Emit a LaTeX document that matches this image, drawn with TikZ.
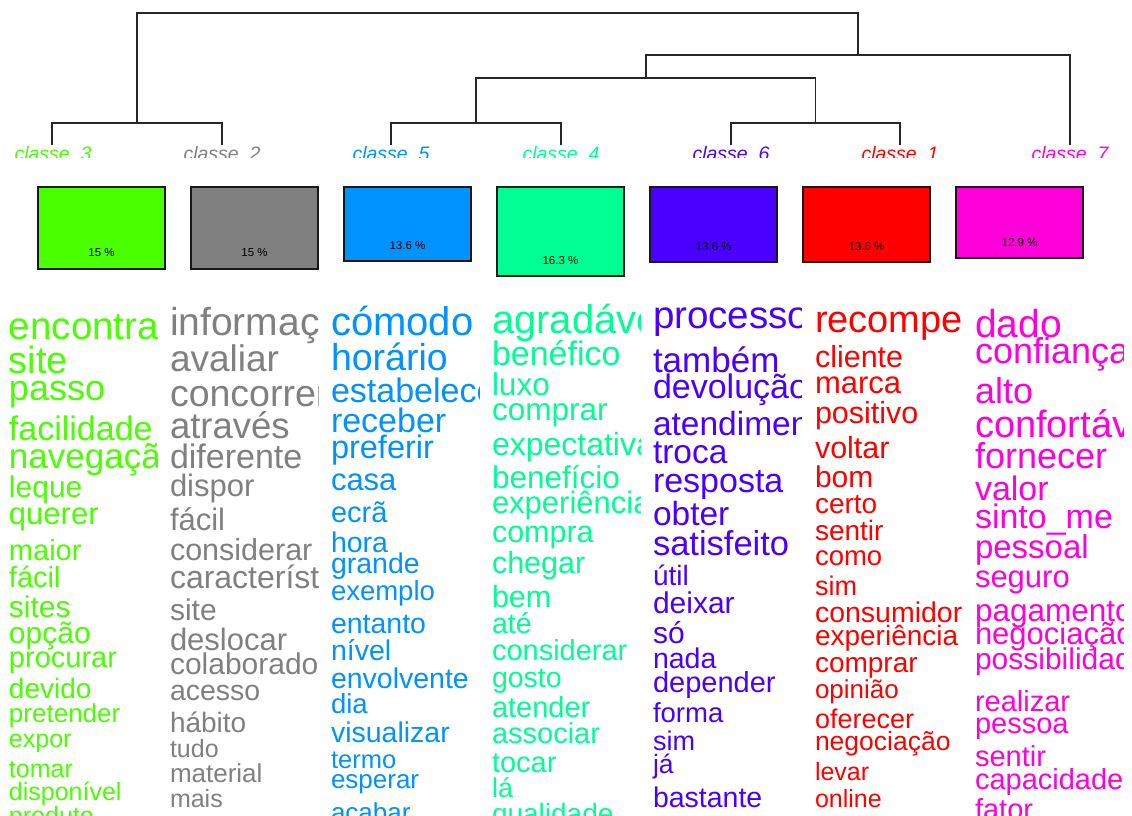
\documentclass[tikz,border=0pt]{standalone}
\usepackage{fontspec}
\setmainfont{Liberation Sans}

% class colours
\definecolor{clsA}{HTML}{FF0000} % classe 1
\definecolor{clsB}{HTML}{808080} % classe 2
\definecolor{clsC}{HTML}{49FF00} % classe 3
\definecolor{clsD}{HTML}{00FF92} % classe 4
\definecolor{clsE}{HTML}{0092FF} % classe 5
\definecolor{clsF}{HTML}{4900FF} % classe 6
\definecolor{clsG}{HTML}{FF00DB} % classe 7

% one clipped column of words: name, left x, colour, list word/baseline/size
\newcommand\wordcolumn[4]{%
  \begin{scope}
    \clip (#2-3,290) rectangle (#2+148.5,815);
    \foreach \w/\yy/\sz [count=\k] in {#4}
      \node[word, text=#3, font=\fontsize{\sz}{\sz}\selectfont] (#1-\k) at (#2,\yy) {\w};
  \end{scope}}

\begin{document}
\begin{tikzpicture}[x=1pt,y=-1pt,
  every node/.style={inner sep=0pt, outer sep=0pt},
  treeline/.style={line width=1.6pt, draw=black!85},
  classbox/.style={draw=black!90, line width=1.2pt, anchor=north west, minimum width=127pt},
  pct/.style={font=\fontsize{11.5}{11.5}\selectfont, text=black},
  classlabel/.style={font=\itshape\fontsize{19.5}{19.5}\selectfont, anchor=base},
  word/.style={anchor=base west}]

\useasboundingbox (0,0) rectangle (1132,815);

% ---- dendrogram ----
\coordinate (l3) at (52,145);
\coordinate (l2) at (222,145);
\coordinate (l5) at (391,145);
\coordinate (l4) at (561,145);
\coordinate (l6) at (731,145);
\coordinate (l1) at (900,145);
\coordinate (l7) at (1070,145);
\coordinate (j32) at (137,123);
\coordinate (j54) at (476,123);
\coordinate (j61) at (815.5,123);
\coordinate (j5461) at (645.75,78);
\coordinate (j7) at (858,55);
\coordinate (root) at (497.5,13);

\draw[treeline] (l3) |- (j32) -| (l2);
\draw[treeline] (l5) |- (j54) -| (l4);
\draw[treeline] (l6) |- (j61) -| (l1);
\draw[treeline] (j54) |- (j5461) -| (j61);
\draw[treeline] (j5461) |- (j7) -| (l7);
\draw[treeline] (j32) |- (root) -| (j7);

% ---- class labels (cut along their lower edge) ----
\begin{scope}
  \clip (0,140) rectangle (1132,157);
  \node[classlabel, text=clsC] (lab3) at (53,160) {classe\ \ 3};
  \node[classlabel, text=clsB] (lab2) at (222,160) {classe\ \ 2};
  \node[classlabel, text=clsE] (lab5) at (391,160) {classe\ \ 5};
  \node[classlabel, text=clsD] (lab4) at (561,160) {classe\ \ 4};
  \node[classlabel, text=clsF] (lab6) at (731,160) {classe\ \ 6};
  \node[classlabel, text=clsA] (lab1) at (900,160) {classe\ \ 1};
  \node[classlabel, text=clsG] (lab7) at (1070,160) {classe\ \ 7};
\end{scope}

% ---- class size boxes ----
\node[classbox, fill=clsC, minimum height=82pt] (b3) at (38,187) {};
\node[classbox, fill=clsB, minimum height=82pt] (b2) at (191,187) {};
\node[classbox, fill=clsE, minimum height=74pt] (b5) at (344,187) {};
\node[classbox, fill=clsD, minimum height=89pt] (b4) at (497,187) {};
\node[classbox, fill=clsF, minimum height=75pt] (b6) at (650,187) {};
\node[classbox, fill=clsA, minimum height=75pt] (b1) at (803,187) {};
\node[classbox, fill=clsG, minimum height=71pt] (b7) at (956,187) {};

\node[pct] (p3) at (101.5,253) {15 \%};
\node[pct] (p2) at (254.5,253) {15 \%};
\node[pct] (p5) at (407.5,246) {13.6 \%};
\node[pct] (p4) at (560.5,261) {16.3 \%};
\node[pct] (p6) at (713.5,247) {13.6 \%};
\node[pct] (p1) at (866.5,247) {13.6 \%};
\node[pct] (p7) at (1019.5,243) {12.9 \%};

% ---- word lists ----
\wordcolumn{w3}{9}{clsC}{encontrar/339/38.5, site/373/38, passo/400/36, facilidade/440/34, navegação/468/35, leque/497/30, querer/524/31, maior/560/29, fácil/587/29, sites/617/30, opção/643/30, procurar/667/29, devido/698/28, pretender/722/26, expor/747/25, tomar/777/25, disponível/800/25, produto/824/25}

\wordcolumn{w2}{170}{clsB}{informação/335/39, avaliar/371/37, concorrente/406/37.5, através/438/36.5, diferente/468/34, dispor/496/31, fácil/530/31, considerar/560/30.5, característica/588/32, site/620/30, deslocar/650/31, colaborador/674/30, acesso/700/28.5, hábito/732/28, tudo/757/25, material/782/26, mais/807/25}

\wordcolumn{w5}{331}{clsE}{cómodo/335/40, horário/370/37.5, estabelecer/402/34, receber/432/34, preferir/458/32.5, casa/490/31, ecrã/522/29, hora/552/28.5, grande/573/28.5, exemplo/600/27.5, entanto/633/28.5, nível/660/28.5, envolvente/688/28.5, dia/713/27.5, visualizar/742/28.5, termo/768/25.5, esperar/788/26, acabar/821/26}

\wordcolumn{w4}{492}{clsD}{agradável/333/40, benéfico/365/34, luxo/395/31.5, comprar/420/31.5, expectativa/455/32, benefício/488/31.5, experiência/513/31, compra/542/30.5, chegar/573/30.5, bem/607/30.5, até/633/28.5, considerar/660/29, gosto/687/28.5, atender/717/29, associar/743/29, tocar/772/29, lá/797/27, qualidade/823/28}

\wordcolumn{w6}{653}{clsF}{processo/328/38.5, também/372/35, devolução/398/34, atendimento/435/33.5, troca/463/33.5, resposta/492/34, obter/525/33.5, satisfeito/555/34.5, útil/585/28, deixar/613/30, só/643/30, nada/668/28.5, depender/692/29, forma/722/27.5, sim/750/27, já/773/26.5, bastante/807/28.5}

\wordcolumn{w1}{815}{clsA}{recompensa/332/38, cliente/367/30.5, marca/393/31, positivo/423/30.5, voltar/458/30.5, bom/487/30, certo/513/28, sentir/540/28, como/565/27.5, sim/595/27, consumidor/622/28.5, experiência/645/28, comprar/672/28, opinião/698/26, oferecer/728/27, negociação/750/26.5, levar/780/25, online/807/25}

\wordcolumn{w7}{975}{clsG}{dado/337/39, confiança/363/36, alto/403/36, confortável/437/38, fornecer/468/36, valor/500/34, sinto\_me/528/34, pessoal/558/33, seguro/587/31, pagamento/621/31.5, negociação/644/31, possibilidade/669/30, realizar/711/29, pessoa/733/29, sentir/766/29, capacidade/789/29, fator/819/29}

\end{tikzpicture}
\end{document}
